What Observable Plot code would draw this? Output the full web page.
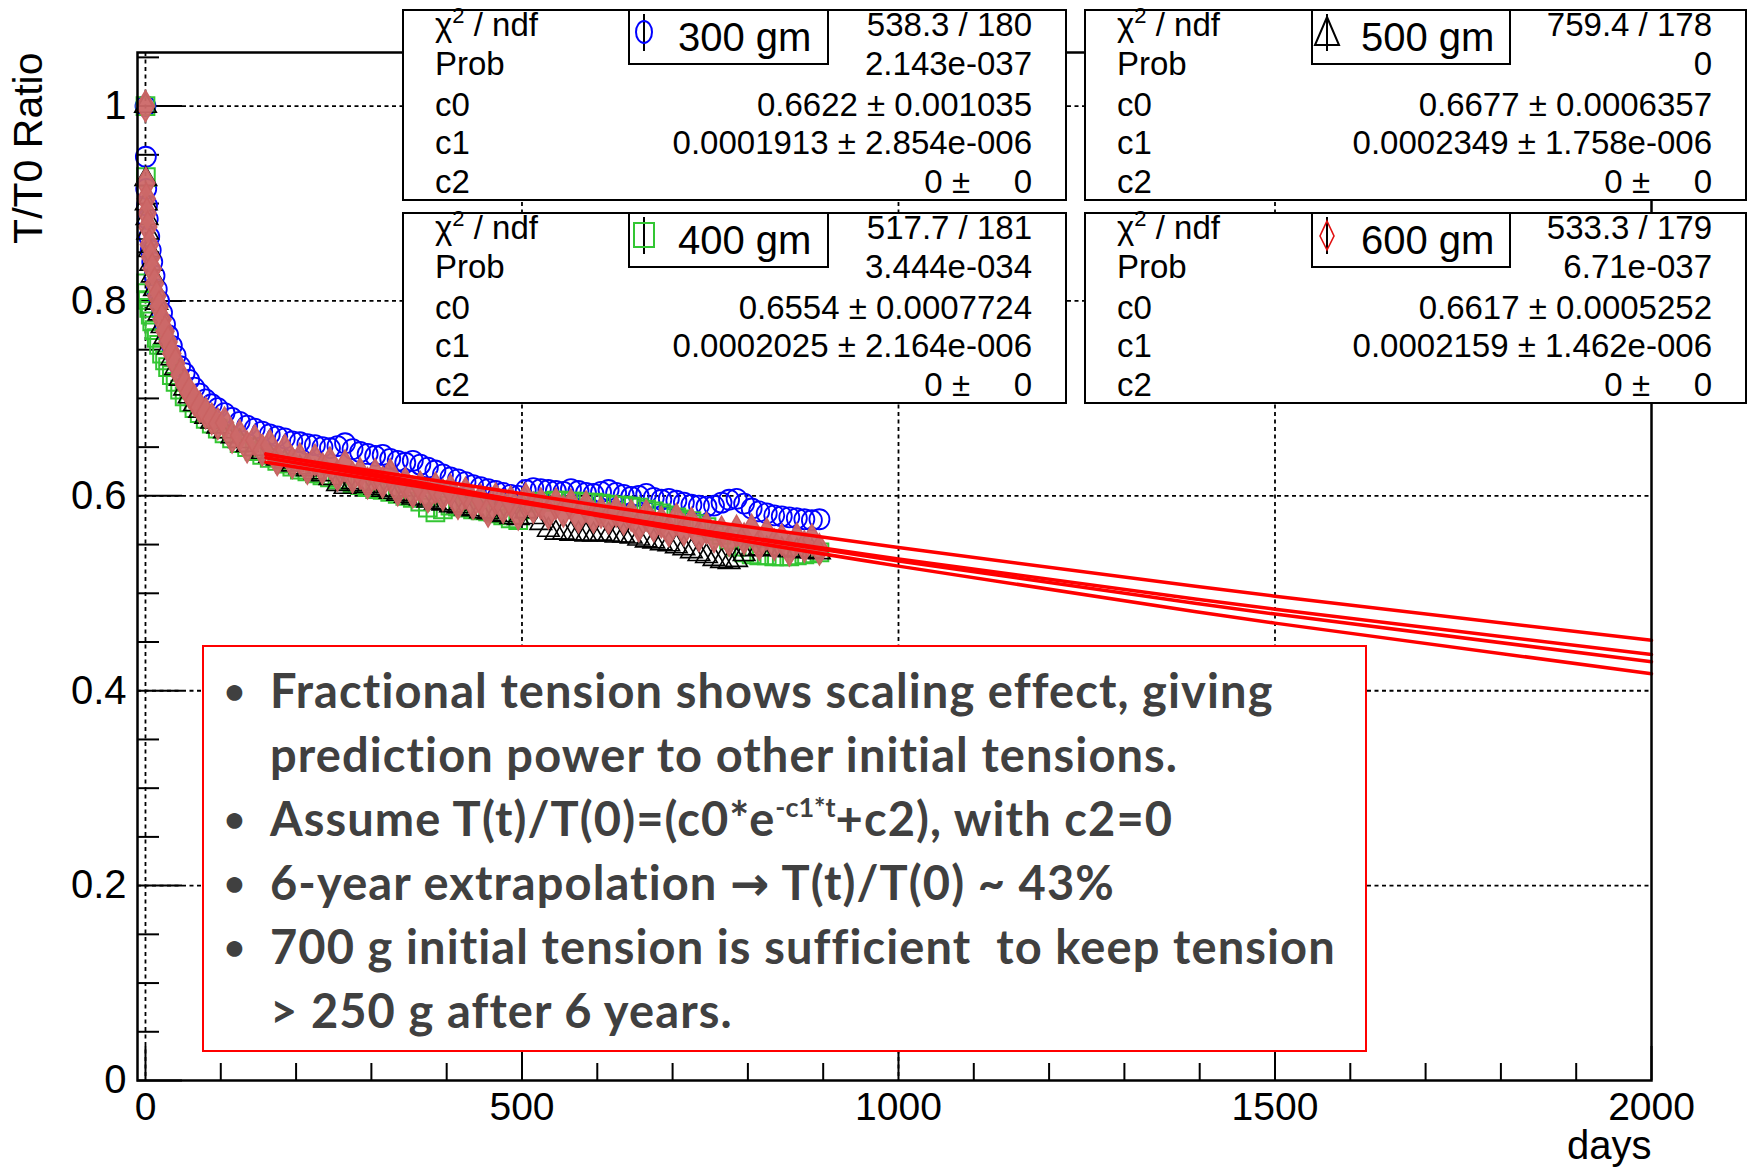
<!DOCTYPE html>
<html><head><meta charset="utf-8">
<script src="https://cdn.jsdelivr.net/npm/d3@7"></script>
<script src="https://cdn.jsdelivr.net/npm/@observablehq/plot@0.6"></script>
<style>
body{margin:0;background:#fff;}
#wrap{position:relative;width:1749px;height:1168px;overflow:hidden;background:#fff;}
#wrap svg{position:absolute;left:0;top:0;}
.stat{position:absolute;box-sizing:border-box;border:2px solid #000;background:#fff;font-family:"Liberation Sans",Arial,Helvetica,sans-serif;font-size:33px;color:#000;}
.row{position:absolute;left:31px;right:33px;height:40px;line-height:40px;display:flex;justify-content:space-between;white-space:nowrap;}
.row sup{font-size:22px;line-height:0;vertical-align:13px;}
.leg{position:absolute;top:-2px;height:56px;box-sizing:border-box;border:2px solid #000;background:#fff;font-size:40px;line-height:52px;white-space:nowrap;}
.leg svg{position:absolute;left:12px;top:6px;}
.leg span{position:absolute;left:48px;top:0;}
.tb{position:absolute;left:202px;top:645px;width:1165px;height:407px;box-sizing:border-box;border:2px solid #ff0000;background:#fff;
  font-family:Lato,"Open Sans",sans-serif;font-weight:700;font-size:47px;letter-spacing:1.1px;color:#404040;padding-top:11px;}
.ln{position:relative;padding-left:66px;height:64px;line-height:64px;white-space:nowrap;}
.ln .b{position:absolute;left:20px;font-size:36px;}
.ln sup{font-size:27px;line-height:0;vertical-align:19px;letter-spacing:0;}
.arr{font-family:"DejaVu Sans",sans-serif;}
</style></head>
<body><div id="wrap"></div>
<script>
// ---------------- data ----------------
const days = [0,0.5,1,2,3,5,7,9, 12,15,18,22,26,30,35,40, 46,52,58,65,72,80,88,96,
  105,115,125,135,145,155,165,175, 185,195,205,215,225,235,245,255,
  265,275,285,295,305,315,325,335, 345,355,365,375,385,395,405,415,
  425,435,445,455,465,475,485,495, 505,515,525,535,545,555,565,575,
  585,595,605,615,625,635,645,655, 665,675,685,695,705,715,725,735,
  745,755,765,775,785,795,805,815, 825,835,845,855,865,875,885,895];

const ratio300 = [1.000,0.948,0.915,0.898,0.884,0.866,0.852,0.840,
  0.826,0.812,0.800,0.788,0.776,0.765,0.754,0.744,
  0.733,0.726,0.719,0.711,0.705,0.699,0.694,0.690,
  0.685,0.680,0.676,0.672,0.669,0.666,0.663,0.661,
  0.659,0.656,0.655,0.653,0.652,0.650,0.649,0.651,
  0.654,0.648,0.645,0.643,0.641,0.642,0.638,0.636,
  0.634,0.636,0.632,0.629,0.626,0.622,0.619,0.617,
  0.614,0.611,0.609,0.607,0.605,0.603,0.601,0.600,
  0.606,0.608,0.607,0.606,0.605,0.604,0.607,0.605,
  0.603,0.602,0.604,0.606,0.603,0.601,0.599,0.600,
  0.602,0.598,0.596,0.597,0.595,0.593,0.591,0.590,
  0.589,0.590,0.593,0.596,0.597,0.592,0.587,0.584,
  0.582,0.580,0.579,0.578,0.577,0.576,0.575,0.576];

const ratio400 = [1.000,0.927,0.818,0.808,0.801,0.793,0.786,0.779,
  0.770,0.762,0.755,0.746,0.739,0.732,0.724,0.717,
  0.709,0.702,0.696,0.690,0.685,0.679,0.674,0.669,
  0.664,0.659,0.654,0.650,0.646,0.642,0.639,0.636,
  0.633,0.630,0.627,0.625,0.623,0.621,0.619,0.617,
  0.615,0.613,0.611,0.609,0.607,0.606,0.604,0.602,
  0.600,0.598,0.594,0.588,0.583,0.586,0.590,0.589,
  0.588,0.586,0.585,0.584,0.582,0.580,0.577,0.575,
  0.586,0.593,0.594,0.594,0.595,0.595,0.594,0.594,
  0.593,0.593,0.592,0.591,0.590,0.590,0.589,0.588,
  0.586,0.584,0.582,0.580,0.578,0.576,0.574,0.571,
  0.568,0.564,0.560,0.555,0.548,0.542,0.540,0.539,
  0.539,0.538,0.538,0.538,0.539,0.540,0.541,0.542];

const ratio500 = [1.000,0.925,0.900,0.885,0.870,0.852,0.838,0.826,
  0.812,0.798,0.787,0.774,0.763,0.752,0.741,0.731,
  0.720,0.710,0.702,0.694,0.687,0.681,0.676,0.671,
  0.666,0.661,0.656,0.652,0.648,0.645,0.641,0.638,
  0.635,0.632,0.629,0.627,0.624,0.622,0.618,0.612,
  0.609,0.614,0.612,0.610,0.608,0.606,0.604,0.602,
  0.600,0.598,0.597,0.595,0.593,0.592,0.590,0.589,
  0.587,0.586,0.584,0.583,0.581,0.580,0.578,0.577,
  0.584,0.578,0.572,0.565,0.562,0.562,0.561,0.561,
  0.560,0.560,0.561,0.560,0.559,0.559,0.558,0.556,
  0.554,0.553,0.551,0.550,0.548,0.546,0.543,0.540,
  0.538,0.535,0.533,0.532,0.534,0.540,0.545,0.546,
  0.546,0.545,0.545,0.544,0.544,0.543,0.543,0.542];

const ratio600 = [1.000,0.921,0.905,0.890,0.876,0.858,0.845,0.833,
  0.818,0.805,0.794,0.781,0.769,0.758,0.746,0.736,
  0.724,0.714,0.706,0.698,0.691,0.685,0.679,0.674,
  0.675,0.660,0.662,0.650,0.657,0.647,0.652,0.637,
  0.647,0.634,0.638,0.628,0.637,0.628,0.634,0.621,
  0.631,0.619,0.623,0.613,0.622,0.614,0.622,0.606,
  0.613,0.604,0.609,0.599,0.608,0.601,0.606,0.592,
  0.603,0.592,0.596,0.584,0.597,0.588,0.594,0.581,
  0.597,0.588,0.592,0.582,0.592,0.584,0.591,0.578,
  0.589,0.578,0.583,0.577,0.584,0.576,0.580,0.569,
  0.580,0.569,0.573,0.564,0.576,0.565,0.572,0.559,
  0.567,0.558,0.563,0.554,0.564,0.556,0.565,0.550,
  0.561,0.550,0.555,0.544,0.556,0.548,0.555,0.545];

// fit curves c0*exp(-c1*t), sampled values
const fitDays = [160, 600, 1000, 1500, 2000];
const fit300 = [0.6423, 0.5904, 0.5469, 0.4970, 0.4517];
const fit400 = [0.6345, 0.5804, 0.5353, 0.4837, 0.4371];
const fit500 = [0.6431, 0.5799, 0.5279, 0.4694, 0.4174];
const fit600 = [0.6392, 0.5813, 0.5332, 0.4787, 0.4297];

const xMajor = [0, 500, 1000, 1500, 2000];
const xMinor = [100,200,300,400,600,700,800,900,1100,1200,1300,1400,1600,1700,1800,1900];
const xGrid = [0, 500, 1000, 1500];
const yMajor = [0, 0.2, 0.4, 0.6, 0.8, 1];
const yMinor = [0.05,0.1,0.15,0.25,0.3,0.35,0.45,0.5,0.55,0.65,0.7,0.75,0.85,0.9,0.95,1.05];
const yGrid = [0.2, 0.4, 0.6, 0.8, 1];

// stat boxes
const tensions = ["300 gm", "400 gm", "500 gm", "600 gm"];
const chi2ndf = ["538.3 / 180", "517.7 / 181", "759.4 / 178", "533.3 / 179"];
const probs = ["2.143e-037", "3.444e-034", "0", "6.71e-037"];
const c0Val = ["0.6622", "0.6554", "0.6677", "0.6617"];
const c0Err = ["0.001035", "0.0007724", "0.0006357", "0.0005252"];
const c1Val = ["0.0001913", "0.0002025", "0.0002349", "0.0002159"];
const c1Err = ["2.854e-006", "2.164e-006", "1.758e-006", "1.462e-006"];
const c2Val = ["0", "0", "0", "0"];
const c2Err = ["0", "0", "0", "0"];

// ---------------- chart ----------------
const W = 1749, H = 1168;
const mL = 137, mR = 98, mT = 52, mB = 88;
const pw = W - mL - mR, ph = H - mT - mB;

const mk = arr => days.map((d, i) => ({day: d, v: arr[i]}));
const mkFit = arr => fitDays.map((d, i) => ({day: d, v: arr[i]}));

const dash = "4,3.5";
const chart = Plot.plot({
  width: W, height: H,
  marginLeft: mL, marginRight: mR, marginTop: mT, marginBottom: mB,
  x: {domain: [-10.6, 2000]},
  y: {domain: [0, 1.055]},
  style: {fontFamily: '"Liberation Sans", Arial, Helvetica, sans-serif', background: "white", color: "black"},
  marks: [
    Plot.ruleX(xGrid, {stroke: "black", strokeWidth: 1.8, strokeDasharray: dash}),
    Plot.ruleY(yGrid, {stroke: "black", strokeWidth: 1.8, strokeDasharray: dash}),
    Plot.ruleX(xMinor, {stroke: "black", strokeWidth: 2, insetTop: ph - 17}),
    Plot.ruleX(xMajor, {stroke: "black", strokeWidth: 2, insetTop: ph - 34}),
    Plot.ruleY(yMinor, {stroke: "black", strokeWidth: 2, insetRight: pw - 22}),
    Plot.ruleY(yMajor, {stroke: "black", strokeWidth: 2, insetRight: pw - 45}),
    Plot.dot(mk(ratio300), {x: "day", y: "v", symbol: "circle", r: 10, stroke: "#0000ff", strokeWidth: 1.8, fill: "none"}),
    Plot.dot(mk(ratio400), {x: "day", y: "v", symbol: "square", r: 10, stroke: "#33c633", strokeWidth: 2, fill: "none"}),
    Plot.dot(mk(ratio500), {x: "day", y: "v", symbol: "triangle", r: 8, stroke: "#000", strokeWidth: 1.6, fill: "none"}),
    Plot.dot(mk(ratio600), {x: "day", y: "v", symbol: "diamond", r: 9.5, stroke: "#c96262", strokeWidth: 1.5, fill: "#cc6868", fillOpacity: 0.95}),
    Plot.line(mkFit(fit300), {x: "day", y: "v", stroke: "#ff0000", strokeWidth: 3.5, curve: "natural"}),
    Plot.line(mkFit(fit400), {x: "day", y: "v", stroke: "#ff0000", strokeWidth: 3.5, curve: "natural"}),
    Plot.line(mkFit(fit500), {x: "day", y: "v", stroke: "#ff0000", strokeWidth: 3.5, curve: "natural"}),
    Plot.line(mkFit(fit600), {x: "day", y: "v", stroke: "#ff0000", strokeWidth: 3.5, curve: "natural"}),
    Plot.frame({stroke: "black", strokeWidth: 2.5}),
    Plot.axisX(xMajor, {tickSize: 0, tickPadding: 12, fontSize: 39, tickFormat: d => String(d), label: null}),
    Plot.axisY(yMajor, {tickSize: 0, tickPadding: 11, fontSize: 40, tickFormat: d => String(+d.toFixed(1)), label: null}),
    Plot.text(["T/T0 Ratio"], {frameAnchor: "top-left", text: d => d, rotate: -90, textAnchor: "end", lineAnchor: "middle", dx: -109, fontSize: 41}),
    Plot.text(["days"], {frameAnchor: "bottom-right", text: d => d, textAnchor: "end", lineAnchor: "bottom", dy: 78, fontSize: 40})
  ]
});
const wrap = document.getElementById("wrap");
wrap.appendChild(chart);

// ---------------- stat boxes ----------------
const boxLayout = [[402, 9, 665], [402, 212, 665], [1084, 9, 663], [1084, 212, 663]];
const rowTops = [-6, 33, 74, 112, 151];
function markerSvg(i) {
  const bar = '<line x1="14" y1="3" x2="14" y2="40" stroke="#000" stroke-width="2"/>';
  let m = "";
  if (i === 0) m = '<ellipse cx="14" cy="21" rx="8" ry="11" fill="none" stroke="#0000ff" stroke-width="2"/>';
  if (i === 1) m = '<rect x="4" y="9" width="20" height="24" fill="none" stroke="#33c633" stroke-width="2"/>';
  if (i === 2) m = '<polygon points="14,6 26,34 2,34" fill="none" stroke="#000" stroke-width="2"/>';
  if (i === 3) m = '<polygon points="14,7 21,22 14,36 7,22" fill="none" stroke="#e01010" stroke-width="1.6"/>';
  return '<svg width="30" height="44">' + bar + m + '</svg>';
}
for (let i = 0; i < 4; i++) {
  const [l, t, w] = boxLayout[i];
  const box = document.createElement("div");
  box.className = "stat";
  box.style.left = l + "px"; box.style.top = t + "px";
  box.style.width = w + "px"; box.style.height = "192px";
  const labels = ['χ<sup>2</sup> / ndf', 'Prob', 'c0', 'c1', 'c2'];
  const values = [chi2ndf[i], probs[i], c0Val[i] + ' ± ' + c0Err[i], c1Val[i] + ' ± ' + c1Err[i],
    c2Val[i] + ' ±<span style="display:inline-block;width:62px;text-align:right">' + c2Err[i] + '</span>'];
  let html = "";
  for (let r = 0; r < 5; r++) {
    html += '<div class="row" style="top:' + rowTops[r] + 'px"><span>' + labels[r] + '</span><span>' + values[r] + '</span></div>';
  }
  html += '<div class="leg" style="left:' + (i < 2 ? 224 : 225) + 'px;width:' + (i < 2 ? 201 : 200) + 'px">' + markerSvg(i) + '<span>' + tensions[i] + '</span></div>';
  box.innerHTML = html;
  wrap.appendChild(box);
}

// ---------------- annotation box ----------------
const tb = document.createElement("div");
tb.className = "tb";
tb.innerHTML =
  '<div class="ln"><span class="b">•</span>Fractional tension shows scaling effect, giving</div>' +
  '<div class="ln">prediction power to other initial tensions.</div>' +
  '<div class="ln"><span class="b">•</span>Assume T(t)/T(0)=(c0*e<sup>-c1*t</sup>+c2), with c2=0</div>' +
  '<div class="ln"><span class="b">•</span>6-year extrapolation <span class="arr">→</span> T(t)/T(0) ~ 43%</div>' +
  '<div class="ln"><span class="b">•</span>700 g initial tension is sufficient&nbsp; to keep tension</div>' +
  '<div class="ln">&gt; 250 g after 6 years.</div>';
wrap.appendChild(tb);
</script>
</body></html>
